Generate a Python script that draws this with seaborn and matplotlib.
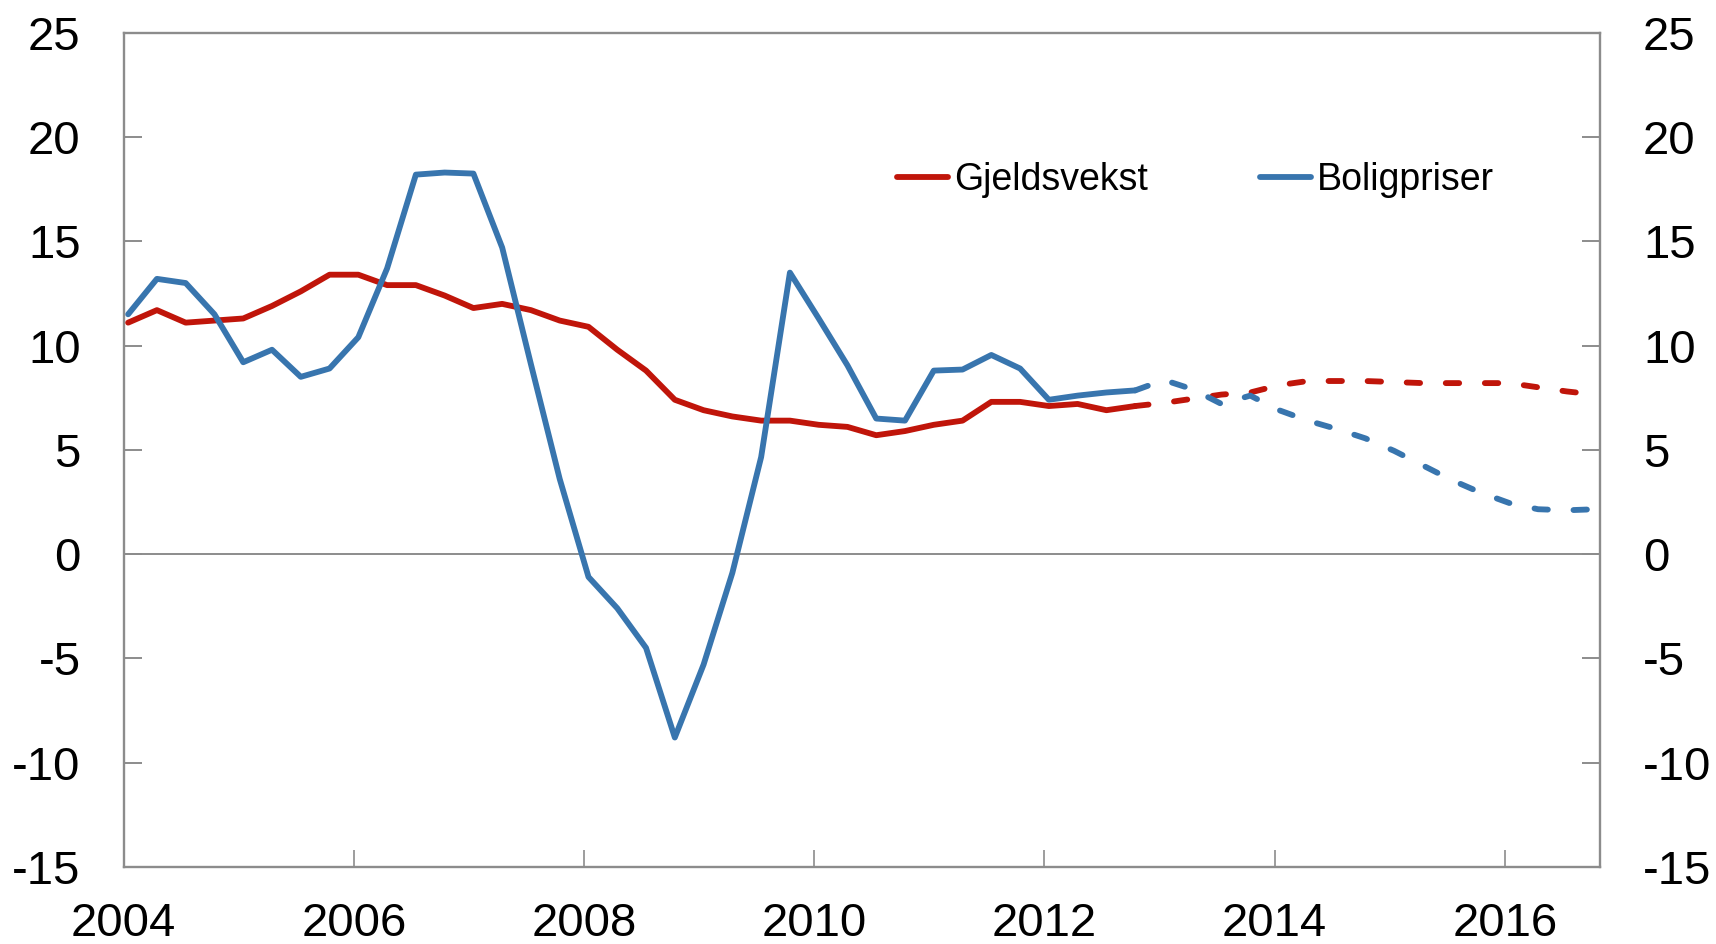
import numpy as np
import pandas as pd
import matplotlib
matplotlib.use("Agg")
import matplotlib.pyplot as plt
import seaborn as sns
from matplotlib.lines import Line2D

# kvartalsdata 2004K1 - 2016K4, faktiske tall t.o.m. 2012K4, deretter anslag
kvartaler = pd.period_range("2004Q1", "2016Q4", freq="Q")
siste_faktiske = "2012Q4"

gjeldsvekst = [11.1, 11.7, 11.1, 11.2, 11.3, 11.9, 12.6, 13.4,
               13.4, 12.9, 12.9, 12.4, 11.8, 12.0, 11.7, 11.2,
               10.9, 9.8, 8.8, 7.4, 6.9, 6.6, 6.4, 6.4,
               6.2, 6.1, 5.7, 5.9, 6.2, 6.4, 7.3, 7.3,
               7.1, 7.2, 6.9, 7.1, 7.25, 7.45, 7.65, 7.75,
               8.1, 8.3, 8.3, 8.3, 8.25, 8.2, 8.2, 8.2,
               8.2, 8.0, 7.8, 7.65]
boligpriser = [11.5, 13.2, 13.0, 11.5, 9.2, 9.8, 8.5, 8.9,
               10.4, 13.7, 18.2, 18.3, 18.25, 14.7, 9.1, 3.6,
               -1.1, -2.6, -4.5, -8.8, -5.3, -0.9, 4.65, 13.5,
               11.3, 9.05, 6.5, 6.4, 8.8, 8.85, 9.55, 8.9,
               7.4, 7.6, 7.75, 7.85, 8.35, 7.9, 7.2, 7.6,
               6.9, 6.4, 6.0, 5.55, 4.95, 4.25, 3.55, 2.95,
               2.45, 2.15, 2.1, 2.15]
serier = {"Gjeldsvekst": gjeldsvekst, "Boligpriser": boligpriser}
farger = {"Gjeldsvekst": "#C0150A", "Boligpriser": "#3875AE"}

# desimalår (midt i første måned i kvartalet)
start = kvartaler.to_timestamp()
x = start.year + (start.month - 1) / 12 + 14 / 365
i_siste = list(kvartaler.astype(str)).index(siste_faktiske)

rader = []
for navn, verdier in serier.items():
    for i, v in enumerate(verdier):
        if i <= i_siste:
            rader.append((x[i], v, navn, "Faktisk"))
        if i >= i_siste:
            rader.append((x[i], v, navn, "Anslag"))
df = pd.DataFrame(rader, columns=["x", "verdi", "serie", "type"])

sns.set_theme(style="white")
plt.rcParams["font.family"] = ["Liberation Sans", "DejaVu Sans"]
plt.rcParams["axes.unicode_minus"] = False
plt.rcParams["lines.dash_capstyle"] = "round"
plt.rcParams["lines.solid_joinstyle"] = "round"

LW = 4.2

fig = plt.figure(figsize=(17.16, 9.44), dpi=100)
ax = fig.add_axes([0.0721, 0.0818, 0.8603, 0.8834])

ax.axhline(0, color="#8c8c8c", lw=1.4, zorder=1)

sns.lineplot(data=df, x="x", y="verdi", hue="serie", style="type",
             palette=farger, dashes={"Faktisk": "", "Anslag": (2.3, 4.4)},
             estimator=None, sort=True, lw=LW, legend=False, ax=ax, zorder=3)

ax.set_xlim(2004, 2016.827)
ax.set_ylim(-15, 25)
ax.set_xticks(range(2004, 2017, 2))
ax.set_yticks(range(-15, 26, 5))
ax.set_xlabel("")
ax.set_ylabel("")

for s in ax.spines.values():
    s.set_color("#8c8c8c")
    s.set_linewidth(1.7)
ax.tick_params(axis="y", direction="in", length=13, width=1.4, color="#8c8c8c",
               left=True, right=True, labelleft=True, labelright=True,
               labelsize=34, pad=31, labelcolor="black")
ax.tick_params(axis="x", direction="in", length=12, width=1.2, color="#8c8c8c",
               bottom=True, labelsize=34, pad=25, labelcolor="black")

handles = [Line2D([], [], color=farger[n], lw=LW) for n in serier]
ax.legend(handles, list(serier), loc="center left", bbox_to_anchor=(0.524, 0.823),
          ncol=2, frameon=False, fontsize=27, handlelength=1.36, handletextpad=0.15,
          columnspacing=3.0, borderpad=0, borderaxespad=0, labelcolor="black")

fig.savefig("out.png", dpi=100)
